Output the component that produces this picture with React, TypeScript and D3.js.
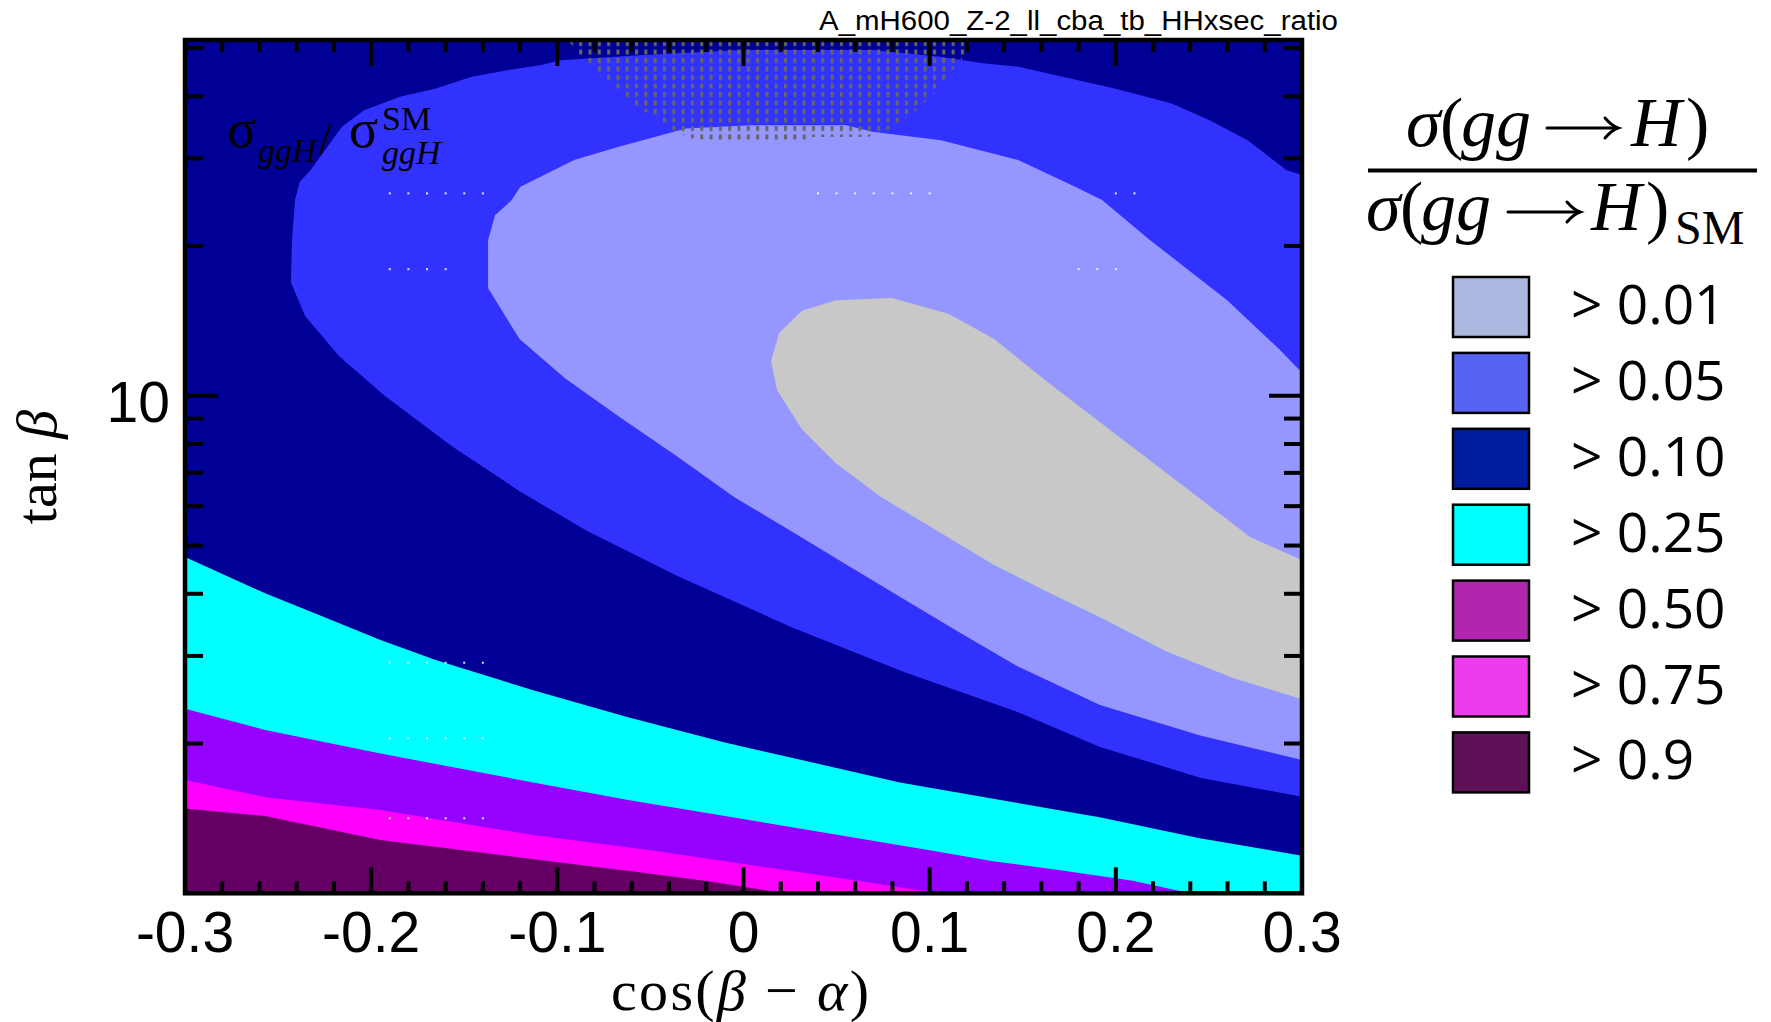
import React from 'react';
import * as d3 from 'd3';

const W = 1771;
const H = 1022;

// axis domains and ticks
const X_DOMAIN = [-0.3, 0.3];
const T_DOMAIN = [1, 51.9];
const xTickValues = [-0.3, -0.2, -0.1, 0, 0.1, 0.2, 0.3];
const xTickLabels = ['-0.3', '-0.2', '-0.1', '0', '0.1', '0.2', '0.3'];
const yTickValues = [10];
const yTickLabels = ['10'];
const yMinorValues = [2, 3, 4, 5, 6, 7, 8, 9, 20, 30, 40, 50];

// region boundaries: cos(beta-alpha) and tan(beta)
// navy / medium-blue boundary (closed, runs to the right edge)
const blueX = [0.3, 0.2915, 0.2708, 0.2501, 0.2297, 0.1988, 0.1679, 0.1475, 0.1287, 0.1056, 0.0696, -0.0019, -0.0556, -0.0986, -0.1093, -0.127, -0.1464, -0.1653, -0.1845, -0.2038, -0.2157, -0.2325, -0.2384, -0.2409, -0.2425, -0.2431, -0.2355, -0.2173, -0.1931, -0.1566, -0.1203, -0.084, -0.0352, 0.0255, 0.0862, 0.1469, 0.1915, 0.2453, 0.3];
const blueT = [27.77, 28.42, 32.65, 35.82, 38.74, 41.53, 44.11, 45.84, 46.63, 48.02, 49.53, 49.53, 48.39, 47.28, 46.2, 45.14, 43.75, 41.48, 39.9, 37.51, 34.72, 28.42, 26.89, 24.74, 20.55, 16.92, 14.46, 12.02, 10.03, 7.92, 6.43, 5.35, 4.34, 3.43, 2.785, 2.318, 1.968, 1.708, 1.563];

// medium-blue / periwinkle boundary
const periX = [0.3, 0.2882, 0.2598, 0.2184, 0.1926, 0.1781, 0.1475, 0.1061, 0.0693, 0.0551, 0.0035, -0.031, -0.067, -0.091, -0.1198, -0.1245, -0.1335, -0.1372, -0.1372, -0.1372, -0.1203, -0.0959, -0.0658, -0.0352, -0.0051, 0.0255, 0.0556, 0.0862, 0.1163, 0.1469, 0.1915, 0.2453, 0.3];
const periT = [11.13, 12.36, 15.57, 20.55, 24.74, 26.3, 29.77, 32.65, 33.93, 34.99, 34.99, 34.46, 31.65, 29.77, 26.3, 24.74, 23.07, 20.55, 17.89, 16.46, 13.0, 10.85, 9.02, 7.53, 6.26, 5.35, 4.57, 3.9, 3.34, 2.863, 2.39, 2.075, 1.853];

// periwinkle / gray boundary
const grayX = [0.3, 0.2721, 0.2453, 0.2184, 0.1915, 0.1647, 0.1346, 0.1104, 0.0798, 0.0497, 0.0314, 0.0191, 0.0148, 0.018, 0.0314, 0.0497, 0.0739, 0.1042, 0.1346, 0.1647, 0.1915, 0.2275, 0.263, 0.3];
const grayT = [4.675, 5.2, 6.21, 7.41, 8.85, 10.56, 13.0, 14.6, 15.72, 15.57, 14.83, 13.37, 11.74, 10.27, 8.57, 7.32, 6.26, 5.35, 4.57, 4.01, 3.59, 3.06, 2.71, 2.455];

// lower bands (each boundary: region below it down to tan(beta)=1)
const cyanTopX = [-0.3, -0.257, -0.226, -0.195, -0.165, -0.113, -0.062, -0.01, 0.084, 0.138, 0.192, 0.245, 0.3];
const cyanTopT = [4.74, 4.01, 3.6, 3.23, 2.94, 2.56, 2.26, 2.01, 1.67, 1.54, 1.42, 1.29, 1.19];
const purpleTopX = [-0.3, -0.257, -0.195, -0.113, -0.062, -0.01, 0.1, 0.134, 0.172, 0.209, 0.24];
const purpleTopT = [2.35, 2.13, 1.91, 1.67, 1.54, 1.43, 1.22, 1.16, 1.11, 1.06, 1.0];
const magentaTopX = [-0.3, -0.257, -0.195, -0.113, -0.05, 0.025, 0.065, 0.104];
const magentaTopT = [1.69, 1.56, 1.47, 1.31, 1.22, 1.11, 1.055, 1.0];
const darkTopX = [-0.3, -0.257, -0.195, -0.143, -0.104, -0.058, -0.017, 0.022];
const darkTopT = [1.48, 1.43, 1.28, 1.21, 1.16, 1.105, 1.055, 1.0];

// excluded (hatched) region at the top
const hatchX = [-0.0943, -0.0878, -0.0776, -0.0674, -0.0572, -0.0475, -0.0378, -0.0287, -0.0137, 0.032, 0.0358, 0.0669, 0.0814, 0.0911, 0.1013, 0.111, 0.1163, 0.1217, 0.1217];
const hatchT = [51.9, 48.39, 44.11, 41.16, 38.04, 36.32, 34.2, 32.96, 32.36, 32.36, 33.11, 33.11, 34.67, 37.0, 40.2, 44.73, 46.84, 50.67, 51.9];

// rows of missing scan points (tiny white dots): tan(beta), x-from, x-to
const gapRowT = [25.52, 25.52, 25.52, 17.97, 17.97, 2.907, 2.049, 1.415];
const gapRowFrom = [-0.19, 0.04, 0.2, -0.19, 0.18, -0.19, -0.19, -0.19];
const gapRowTo = [-0.135, 0.1, 0.218, -0.16, 0.205, -0.135, -0.135, -0.135];

// plot fill colours
const regionColors = {
  navy: '#000096',
  blue: '#3232ff',
  peri: '#9696ff',
  gray: '#c8c8c8',
  cyan: '#00ffff',
  purple: '#9600ff',
  magenta: '#ff00ff',
  dark: '#640064',
};

// legend
const legendLabels = ['> 0.01', '> 0.05', '> 0.10', '> 0.25', '> 0.50', '> 0.75', '> 0.9'];
const legendColors = ['#abb9e0', '#5664f1', '#001c9f', '#00ffff', '#b027ad', '#ef3bee', '#5e1158'];

const TITLE = 'A_mH600_Z-2_ll_cba_tb_HHxsec_ratio';

function Arrow({ x1, x2, y }: { x1: number; x2: number; y: number }) {
  return (
    <g stroke="#000" strokeWidth={3} fill="none" strokeLinecap="round">
      <line x1={x1} x2={x2 - 1} y1={y} y2={y} />
      <path d={`M${x2 - 13},${y - 10} Q${x2 - 6},${y - 2} ${x2},${y} Q${x2 - 6},${y + 2} ${x2 - 13},${y + 10}`} />
    </g>
  );
}

export default function App() {
  const left = 185, right = 1302, top = 40, bottom = 893.3;
  const x = d3.scaleLinear().domain(X_DOMAIN).range([left, right]);
  const y = d3.scaleLog().domain(T_DOMAIN).range([bottom, top]);

  const closed = (xs: number[], ts: number[]) =>
    (d3.line<number>().x((i) => x(xs[i])).y((i) => y(ts[i]))(xs.map((_, i) => i)) || '') + 'Z';
  const band = (xs: number[], ts: number[]) =>
    d3.area<number>().x((i) => x(xs[i])).y0(y(1)).y1((i) => y(ts[i]))(xs.map((_, i) => i)) || '';

  const xMinor = x.ticks(30).filter((v) => Math.abs(v * 10 - Math.round(v * 10)) > 1e-6);

  // white gap dots every 0.01 along each row
  const gapDots: { cx: number; cy: number }[] = [];
  gapRowT.forEach((t, r) => {
    const xs = d3.range(Math.ceil(gapRowFrom[r] * 100), Math.floor(gapRowTo[r] * 100) + 1).map((k) => k / 100);
    xs.forEach((v) => gapDots.push({ cx: x(v), cy: y(t) }));
  });

  const serif = "'Liberation Serif', 'DejaVu Serif', serif";
  const sans = "'Liberation Sans', Arial, sans-serif";

  return (
    <svg width={W} height={H} style={{ position: 'absolute', left: 0, top: 0, background: '#fff' }}>
      <defs>
        <clipPath id="plotClip">
          <rect x={left} y={top} width={right - left} height={bottom - top} />
        </clipPath>
        <pattern id="hatch" patternUnits="userSpaceOnUse" x={left + 3.2} y={41} width={9.31} height={8.5}>
          <rect width={3} height={5} fill="#666666" />
        </pattern>
      </defs>

      <g clipPath="url(#plotClip)">
        <rect x={left} y={top} width={right - left} height={bottom - top} fill={regionColors.navy} />
        <path d={closed(blueX, blueT)} fill={regionColors.blue} />
        <path d={closed(periX, periT)} fill={regionColors.peri} />
        <path d={closed(grayX, grayT)} fill={regionColors.gray} />
        <path d={band(cyanTopX, cyanTopT)} fill={regionColors.cyan} />
        <path d={band(purpleTopX, purpleTopT)} fill={regionColors.purple} />
        <path d={band(magentaTopX, magentaTopT)} fill={regionColors.magenta} />
        <path d={band(darkTopX, darkTopT)} fill={regionColors.dark} />
        <path d={closed(hatchX, hatchT)} fill="url(#hatch)" />
        {gapDots.map((d, i) => (
          <rect key={'gd' + i} x={d.cx - 1} y={d.cy - 1} width={2} height={2} fill="#ffffff" opacity={0.85} />
        ))}
      </g>

      {/* ticks */}
      <g stroke="#000" strokeWidth={4}>
        {xMinor.map((v, i) => (
          <g key={'xm' + i}>
            <line x1={x(v)} x2={x(v)} y1={bottom} y2={bottom - 12} />
            <line x1={x(v)} x2={x(v)} y1={top} y2={top + 12} />
          </g>
        ))}
        {xTickValues.map((v, i) => (
          <g key={'xM' + i}>
            <line x1={x(v)} x2={x(v)} y1={bottom} y2={bottom - 26} />
            <line x1={x(v)} x2={x(v)} y1={top} y2={top + 26} />
          </g>
        ))}
        {yMinorValues.map((v, i) => (
          <g key={'ym' + i}>
            <line x1={left} x2={left + 18} y1={y(v)} y2={y(v)} />
            <line x1={right} x2={right - 18} y1={y(v)} y2={y(v)} />
          </g>
        ))}
        {yTickValues.map((v, i) => (
          <g key={'yM' + i}>
            <line x1={left} x2={left + 33} y1={y(v)} y2={y(v)} />
            <line x1={right} x2={right - 33} y1={y(v)} y2={y(v)} />
          </g>
        ))}
      </g>
      <rect x={left} y={top} width={right - left} height={bottom - top} fill="none" stroke="#000" strokeWidth={4.5} />

      {/* tick labels */}
      {xTickValues.map((v, i) => (
        <text key={'xl' + i} x={x(v)} y={951.7} textAnchor="middle" fontFamily={sans} fontSize={57} fill="#000">
          {xTickLabels[i]}
        </text>
      ))}
      {yTickValues.map((v, i) => (
        <text key={'yl' + i} x={170} y={y(v) + 26} textAnchor="end" fontFamily={sans} fontSize={57} fill="#000">
          {yTickLabels[i]}
        </text>
      ))}

      {/* axis titles */}
      <text x={740} y={1010} textAnchor="middle" fontFamily={serif} fontSize={58} fill="#000" textLength={258} lengthAdjust="spacing">
        cos(<tspan fontStyle="italic">β</tspan> − <tspan fontStyle="italic">α</tspan>)
      </text>
      <text transform="translate(56,467) rotate(-90)" textAnchor="middle" fontFamily={serif} fontSize={58} fill="#000">
        tan <tspan fontStyle="italic">β</tspan>
      </text>

      {/* title */}
      <text x={1338} y={30} textAnchor="end" fontFamily={sans} fontSize={27} fill="#000" textLength={519} lengthAdjust="spacingAndGlyphs">
        {TITLE}
      </text>

      {/* in-plot label */}
      <text fontFamily={serif} fill="#000">
        <tspan x={227} y={147} fontSize={54}>σ</tspan>
        <tspan x={258} y={162} fontSize={34} fontStyle="italic">ggH</tspan>
        <tspan x={319} y={155} fontSize={46}>/</tspan>
        <tspan x={349} y={147} fontSize={54}>σ</tspan>
        <tspan x={382} y={130} fontSize={34}>SM</tspan>
        <tspan x={382} y={164} fontSize={34} fontStyle="italic">ggH</tspan>
      </text>

      {/* legend header: fraction */}
      <text fontFamily={serif} fill="#000" fontSize={70}>
        <tspan x={1406} y={146} fontStyle="italic">σ</tspan>
        <tspan x={1440} y={146}>(</tspan>
        <tspan x={1461} y={146} fontStyle="italic">gg</tspan>
        <tspan x={1631} y={146} fontStyle="italic">H</tspan>
        <tspan x={1686} y={146}>)</tspan>
        <tspan x={1366} y={230} fontStyle="italic">σ</tspan>
        <tspan x={1400} y={230}>(</tspan>
        <tspan x={1421} y={230} fontStyle="italic">gg</tspan>
        <tspan x={1591} y={230} fontStyle="italic">H</tspan>
        <tspan x={1646} y={230}>)</tspan>
        <tspan x={1675} y={244} fontSize={48}>SM</tspan>
      </text>
      <Arrow x1={1547} x2={1618} y={128} />
      <Arrow x1={1508} x2={1580} y={212} />
      <line x1={1368} x2={1757} y1={170.5} y2={170.5} stroke="#000" strokeWidth={4} />

      {/* legend entries */}
      {legendLabels.map((lab, i) => {
        const yy = 277 + i * 75.9;
        return (
          <g key={'lg' + i}>
            <rect x={1453} y={yy} width={76} height={60} fill={legendColors[i]} stroke="#000" strokeWidth={2.5} />
            <text x={1571} y={yy + 47} fontFamily="'Open Sans', 'Noto Sans', sans-serif" fontSize={55} fill="#000">
              {lab}
            </text>
          </g>
        );
      })}
    </svg>
  );
}
